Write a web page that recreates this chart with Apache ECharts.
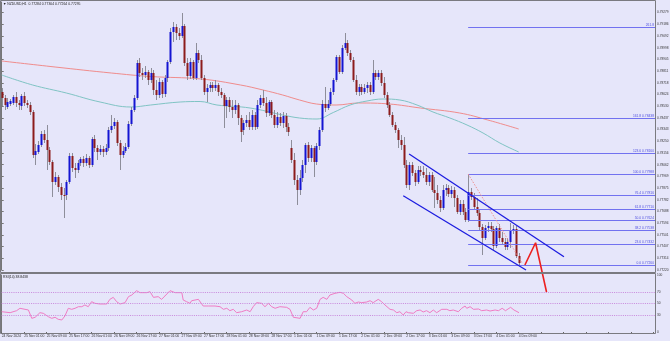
<!DOCTYPE html>
<html><head><meta charset="utf-8">
<script src="https://cdn.jsdelivr.net/npm/echarts/dist/echarts.min.js"></script>
<style>html,body{margin:0;padding:0;background:#e6e6fa}#c{width:670px;height:341px}</style>
</head><body><div id="c"></div><script>
const symbolTitle = "\u25BC NZDUSD,H1  0.77284 0.77304 0.77264 0.77295";
const rsiTitle = "RSI(14) 38.8438";
const xLabels = ["24 Nov 2024","25 Nov 01:00","25 Nov 09:00","25 Nov 17:00","26 Nov 01:00","26 Nov 09:00","26 Nov 17:00","27 Nov 01:00","27 Nov 09:00","27 Nov 17:00","28 Nov 01:00","28 Nov 09:00","28 Nov 17:00","1 Dec 01:00","1 Dec 09:00","1 Dec 17:00","2 Dec 01:00","2 Dec 09:00","2 Dec 17:00","3 Dec 01:00","3 Dec 09:00","3 Dec 17:00","4 Dec 01:00","4 Dec 09:00"];
const opens = [0.78644,0.78596,0.78524,0.78548,0.78556,0.78604,0.78556,0.78532,0.78612,0.78556,
0.78540,0.78484,0.78140,0.78164,0.78220,0.78308,0.78260,0.78180,0.78084,0.77924,
0.77964,0.77884,0.77820,0.77820,0.77924,0.78132,0.78036,0.78020,0.78076,0.78108,
0.78076,0.78116,0.78060,0.78268,0.78196,0.78164,0.78188,0.78164,0.78196,0.78340,
0.78372,0.78404,0.78236,0.78140,0.78172,0.78204,0.78388,0.78500,0.78596,0.78876,
0.78796,0.78780,0.78804,0.78740,0.78796,0.78660,0.78620,0.78724,0.78628,0.78756,
0.78884,0.79124,0.79164,0.79116,0.79092,0.79172,0.78876,0.78772,0.78884,0.78756,
0.78956,0.78900,0.78756,0.78644,0.78676,0.78700,0.78676,0.78700,0.78644,0.78620,
0.78532,0.78580,0.78524,0.78500,0.78540,0.78436,0.78340,0.78396,0.78420,0.78364,
0.78460,0.78364,0.78540,0.78596,0.78556,0.78476,0.78564,0.78460,0.78380,0.78444,
0.78396,0.78452,0.78364,0.78196,0.78100,0.77940,0.77860,0.77956,0.78060,0.78220,
0.78116,0.78196,0.78084,0.78212,0.78340,0.78548,0.78516,0.78548,0.78644,0.78740,
0.78924,0.78804,0.78996,0.79036,0.78956,0.78900,0.78740,0.78644,0.78684,0.78644,
0.78676,0.78700,0.78644,0.78796,0.78764,0.78796,0.78716,0.78620,0.78540,0.78460,
0.78380,0.78340,0.78260,0.78220,0.78060,0.77900,0.78060,0.77996,0.77924,0.78020,
0.78004,0.77980,0.77924,0.77980,0.77860,0.77836,0.77780,0.77716,0.77860,0.77876,
0.77828,0.77860,0.77796,0.77684,0.77748,0.77684,0.77620,0.77844,0.77804,0.77724,
0.77676,0.77564,0.77476,0.77556,0.77572,0.77548,0.77412,0.77556,0.77476,0.77444,
0.77404,0.77444,0.77532,0.77548,0.77332];
const closes = [0.78596,0.78540,0.78564,0.78572,0.78604,0.78556,0.78540,0.78612,0.78556,0.78540,
0.78484,0.78140,0.78172,0.78220,0.78308,0.78260,0.78180,0.78084,0.77924,0.77964,
0.77884,0.77820,0.77812,0.77924,0.78132,0.78036,0.78020,0.78076,0.78108,0.78076,
0.78116,0.78060,0.78268,0.78196,0.78164,0.78188,0.78164,0.78196,0.78340,0.78372,
0.78404,0.78236,0.78140,0.78172,0.78204,0.78388,0.78500,0.78596,0.78876,0.78796,
0.78780,0.78804,0.78740,0.78796,0.78660,0.78620,0.78724,0.78628,0.78756,0.78884,
0.79124,0.79164,0.79116,0.79092,0.79172,0.78876,0.78772,0.78884,0.78756,0.78956,
0.78900,0.78756,0.78644,0.78676,0.78700,0.78676,0.78700,0.78644,0.78620,0.78532,
0.78580,0.78524,0.78500,0.78540,0.78436,0.78324,0.78396,0.78420,0.78364,0.78460,
0.78364,0.78540,0.78596,0.78556,0.78476,0.78564,0.78460,0.78380,0.78444,0.78396,
0.78452,0.78364,0.78324,0.78100,0.77940,0.77860,0.77956,0.78060,0.78220,0.78116,
0.78196,0.78084,0.78212,0.78340,0.78548,0.78516,0.78548,0.78644,0.78740,0.78924,
0.78804,0.78996,0.79036,0.78956,0.78900,0.78740,0.78644,0.78684,0.78644,0.78676,
0.78700,0.78644,0.78796,0.78764,0.78796,0.78716,0.78620,0.78540,0.78460,0.78380,
0.78340,0.78260,0.78220,0.78060,0.77900,0.78060,0.77996,0.77924,0.78020,0.78004,
0.77980,0.77924,0.77980,0.77860,0.77836,0.77780,0.77716,0.77860,0.77876,0.77828,
0.77860,0.77796,0.77684,0.77748,0.77684,0.77620,0.77844,0.77804,0.77724,0.77676,
0.77564,0.77476,0.77556,0.77572,0.77548,0.77412,0.77556,0.77476,0.77444,0.77404,
0.77444,0.77532,0.77548,0.77332,0.77276];
const highs = [0.78676,0.78620,0.78596,0.78588,0.78620,0.78644,0.78580,0.78628,0.78644,0.78580,
0.78564,0.78500,0.78228,0.78252,0.78332,0.78340,0.78380,0.78204,0.78100,0.78004,
0.77980,0.77916,0.77876,0.77940,0.78156,0.78156,0.78076,0.78100,0.78124,0.78132,
0.78148,0.78132,0.78284,0.78300,0.78220,0.78220,0.78212,0.78228,0.78364,0.78460,
0.78436,0.78420,0.78260,0.78212,0.78236,0.78412,0.78524,0.78620,0.78900,0.78916,
0.78836,0.78852,0.78820,0.78836,0.78820,0.78740,0.78756,0.78740,0.78780,0.78900,
0.79156,0.79204,0.79188,0.79156,0.79276,0.79188,0.78916,0.78916,0.78900,0.79036,
0.78980,0.78940,0.78780,0.78708,0.78724,0.78724,0.78740,0.78716,0.78676,0.78636,
0.78604,0.78604,0.78580,0.78580,0.78556,0.78460,0.78420,0.78460,0.78484,0.78500,
0.78484,0.78580,0.78620,0.78660,0.78604,0.78580,0.78580,0.78500,0.78484,0.78476,
0.78484,0.78476,0.78396,0.78260,0.78156,0.77980,0.78020,0.78100,0.78236,0.78244,
0.78220,0.78212,0.78236,0.78364,0.78580,0.78684,0.78580,0.78676,0.78756,0.78940,
0.78940,0.79020,0.79116,0.79060,0.78980,0.78924,0.78780,0.78708,0.78708,0.78708,
0.78724,0.78724,0.78900,0.78820,0.78820,0.78820,0.78764,0.78644,0.78564,0.78484,
0.78404,0.78356,0.78300,0.78284,0.78100,0.78084,0.78084,0.78020,0.78052,0.78052,
0.78052,0.78036,0.78004,0.78004,0.77964,0.77900,0.77812,0.77900,0.77908,0.77900,
0.77892,0.77884,0.77820,0.77780,0.77780,0.77716,0.77988,0.77876,0.77836,0.77796,
0.77700,0.77588,0.77580,0.77604,0.77604,0.77572,0.77572,0.77588,0.77524,0.77476,
0.77476,0.77596,0.77580,0.77572,0.77356];
const lows = [0.78532,0.78500,0.78508,0.78532,0.78540,0.78524,0.78500,0.78500,0.78532,0.78516,
0.78460,0.78116,0.78060,0.78148,0.78204,0.78236,0.78020,0.78060,0.77804,0.77900,
0.77844,0.77780,0.77636,0.77780,0.77908,0.78004,0.77956,0.77996,0.78052,0.78044,
0.78052,0.78036,0.78044,0.78164,0.78100,0.78140,0.78124,0.78140,0.78172,0.78316,
0.78348,0.78212,0.78020,0.78116,0.78156,0.78188,0.78372,0.78484,0.78580,0.78764,
0.78740,0.78756,0.78700,0.78716,0.78620,0.78580,0.78596,0.78596,0.78604,0.78724,
0.78868,0.79044,0.79060,0.79060,0.79076,0.78852,0.78740,0.78748,0.78740,0.78740,
0.78876,0.78740,0.78620,0.78564,0.78644,0.78644,0.78652,0.78612,0.78596,0.78356,
0.78436,0.78484,0.78436,0.78468,0.78380,0.78244,0.78300,0.78364,0.78340,0.78340,
0.78340,0.78348,0.78516,0.78532,0.78444,0.78452,0.78436,0.78356,0.78356,0.78372,
0.78356,0.78324,0.78292,0.78076,0.77900,0.77740,0.77820,0.77924,0.77996,0.78084,
0.78084,0.77964,0.78060,0.78180,0.78324,0.78484,0.78500,0.78532,0.78620,0.78724,
0.78788,0.78788,0.78980,0.78932,0.78884,0.78724,0.78620,0.78612,0.78620,0.78628,
0.78636,0.78620,0.78628,0.78740,0.78740,0.78692,0.78596,0.78516,0.78444,0.78364,
0.78316,0.78196,0.78180,0.78036,0.77876,0.77860,0.77972,0.77892,0.77908,0.77972,
0.77956,0.77900,0.77892,0.77844,0.77716,0.77748,0.77684,0.77700,0.77812,0.77804,
0.77796,0.77724,0.77668,0.77660,0.77660,0.77604,0.77604,0.77780,0.77700,0.77652,
0.77540,0.77340,0.77460,0.77524,0.77524,0.77380,0.77396,0.77444,0.77420,0.77380,
0.77380,0.77396,0.77508,0.77316,0.77260];
const maSlow = [[0,0.78892],[19,0.78844],[39,0.78796],[53,0.78768],[71,0.78748],[85,0.78700],[93,0.78660],[100,0.78620],[106,0.78580],[112,0.78548],[119,0.78540],[127,0.78556],[138,0.78548],[149,0.78516],[163,0.78476],[173,0.78420],[184,0.78348]];
const maFast = [[0,0.78780],[11,0.78700],[23,0.78636],[35,0.78564],[46,0.78524],[53,0.78540],[63.5,0.78564],[70.6,0.78568],[76.6,0.78540],[88.4,0.78516],[100,0.78460],[106,0.78436],[112.2,0.78428],[118,0.78480],[124,0.78540],[130,0.78572],[135.7,0.78588],[141.7,0.78580],[147.8,0.78540],[153.5,0.78484],[159.5,0.78436],[165.6,0.78380],[171.3,0.78316],[177.3,0.78236],[184,0.78164]];
const fibLevels = [0, 23.6, 38.2, 50, 61.8, 76.4, 100, 123.6, 161.8, 261.8];
const fibLow = 0.77260, fibHigh = 0.77988, fibStart = 166;
const fibDiagonal = [[166,0.77988],[185.2,0.77276]];
const channelUpper = [[145.0,0.78148],[200.1,0.77326]];
const channelLower = [[142.9,0.77814],[186.6,0.77220]];
const projection = [[186.2,0.77260],[190.0,0.77438],[193.9,0.77044]];
const rsiLevels = [70, 50, 30];
const rsiPts = [[0,35.6],[3,33.9],[5.3,37.4],[6.5,41.6],[8.3,39.8],[9.5,38.6],[10.7,24.0],[11.9,25.8],[13.6,33.9],[14.8,32.8],[16.6,26.8],[17.8,24.0],[19,25.8],[20.1,22.3],[21.4,21.1],[22.5,28.1],[23.7,41.6],[24.9,39.8],[26.1,41.6],[27.3,44.4],[28.5,44.4],[29.6,47.4],[30.8,44.4],[32,53.2],[33.2,50.3],[35,49.1],[37.4,49.1],[38.5,57.3],[39.7,60.8],[40.9,53.2],[42.1,49.1],[43.9,51.5],[45.1,62.0],[46.3,64.9],[48,72.5],[49.2,69.0],[51.6,69.0],[52.8,70.7],[54,60.8],[55.7,62.0],[56.9,57.3],[58.1,63.2],[59.9,72.5],[61.7,69.0],[64.1,69.0],[64.6,56.1],[65.8,53.2],[67,50.3],[67.6,54.9],[68.8,56.1],[70,57.3],[71.7,45.6],[73.5,45.6],[75.9,45.6],[77.7,44.4],[78.9,39.8],[80.1,41.6],[81.2,37.4],[82.4,39.8],[83.6,33.9],[85.4,35.6],[87.2,38.6],[88.4,35.6],[89.5,44.4],[90.7,51.5],[92.5,50.3],[93.7,44.4],[94.9,50.3],[96.1,44.4],[97.3,41.6],[99,44.4],[101.4,43.3],[102.6,39.8],[103.8,25.8],[106.2,24.0],[107.3,35.6],[108.5,35.6],[109.7,43.3],[110.9,38.6],[112.1,41.6],[113.3,57.3],[114.4,60.8],[115.7,57.3],[116.8,64.9],[118.6,67.9],[120.4,69.6],[121.6,67.9],[122.8,62.0],[124.6,56.1],[125.7,50.3],[126.9,52.6],[128.1,51.5],[129.9,52.6],[131.1,54.9],[132.2,51.5],[134,57.3],[135.2,53.2],[136.4,47.4],[138.2,39.8],[139.4,38.6],[140.6,33.9],[141.7,35.6],[142.9,29.8],[143.9,35.6],[144.7,33.9],[146.5,32.8],[147.7,37.4],[148.9,38.6],[150,35.1],[151.2,37.4],[152.4,33.9],[153.6,38.6],[154.8,33.9],[156.6,39.8],[158.4,39.8],[159.5,37.4],[160.7,38.6],[162.5,35.6],[163.7,41.6],[164.9,45.6],[165.5,41.6],[166.7,44.4],[167.9,39.8],[169.7,40.4],[170.8,37.4],[172.6,38.6],[173.8,36.8],[175.6,38.6],[176.8,37.4],[178.1,41.6],[179.3,37.4],[181.1,43.3],[182.3,38.6],[184.1,33.9]];

const N = 233;
const FONT = 'Liberation Sans, Arial, sans-serif';
const cats = Array.from({length: N}, (_, i) => String(i));
const candleData = opens.map((o, i) => [i, o, closes[i], lows[i], highs[i]]);
const fibData = fibLevels.map(l => [fibStart, fibLow + (fibHigh - fibLow) * l / 100, l]);
const lastClose = closes[closes.length - 1];

const chart = echarts.init(document.getElementById('c'), null, {renderer: 'canvas'});
chart.setOption({
  animation: false,
  backgroundColor: '#e6e6fa',
  grid: [
    {left: 0.3, top: 2, width: 654.7, height: 268, containLabel: false, outerBoundsMode: 'none'},
    {left: 0.3, top: 275, width: 654.7, height: 57, containLabel: false, outerBoundsMode: 'none'}
  ],
  xAxis: [
    {type: 'value', gridIndex: 0, min: -0.5, max: N - 0.5, show: false},
    {type: 'category', gridIndex: 1, data: cats, boundaryGap: true,
      axisLine: {show: false},
      axisTick: {show: true, interval: 7, alignWithLabel: true, length: 2, lineStyle: {color: '#666'}},
      axisLabel: {interval: 7, align: 'left', fontSize: 3.4, fontFamily: FONT, color: '#333', margin: 3,
        formatter: (v, idx) => (idx % 8 === 0 && xLabels[idx / 8]) ? xLabels[idx / 8] : ''},
      splitLine: {show: false}},
    {type: 'value', gridIndex: 1, min: -0.5, max: N - 0.5, show: false}
  ],
  yAxis: [
    {type: 'value', gridIndex: 0, position: 'right', min: 0.7722, max: 0.79364, interval: 0.000936,
      axisLine: {show: true, lineStyle: {color: '#777'}},
      axisTick: {show: true, length: 2, lineStyle: {color: '#777'}},
      axisLabel: {show: true, showMaxLabel: false, fontSize: 3.2, fontFamily: FONT, color: '#333', margin: 2,
        formatter: v => v.toFixed(5)},
      splitLine: {show: false}},
    {type: 'value', gridIndex: 1, position: 'right', min: 0, max: 100, interval: 10,
      axisLine: {show: true, lineStyle: {color: '#777'}},
      axisTick: {show: false},
      axisLabel: {fontSize: 3.2, fontFamily: FONT, color: '#333', margin: 2,
        formatter: v => ([0, 30, 50, 70, 100].indexOf(v) >= 0 ? String(v) : '')},
      splitLine: {show: false}}
  ],
  series: [
    {type: 'line', name: 'maSlow', xAxisIndex: 0, yAxisIndex: 0, data: maSlow, smooth: 0.4, showSymbol: false,
      lineStyle: {color: '#f08c8c', width: 1}, z: 2,
      markLine: {symbol: 'none', silent: true, data: [{yAxis: lastClose}],
        lineStyle: {color: '#a8a8b0', type: 'solid', width: 1},
        label: {position: 'end', distance: 1, formatter: p => p.value.toFixed(5), color: '#fff',
          backgroundColor: '#111', fontSize: 3.2, fontFamily: FONT, padding: [0.5, 1]}}},
    {type: 'line', name: 'maFast', xAxisIndex: 0, yAxisIndex: 0, data: maFast, smooth: 0.4, showSymbol: false,
      lineStyle: {color: '#80c4c4', width: 1}, z: 2},
    {type: 'custom', name: 'candles', xAxisIndex: 0, yAxisIndex: 0, data: candleData, z: 3,
      encode: {x: 0, y: [1, 2, 3, 4]},
      renderItem: (params, api) => {
        const i = api.value(0), o = api.value(1), c = api.value(2), l = api.value(3), h = api.value(4);
        const po = api.coord([i, o]), pc = api.coord([i, c]), pl = api.coord([i, l]), ph = api.coord([i, h]);
        const x = Math.round(po[0]);
        const top = Math.min(po[1], pc[1]);
        const hgt = Math.max(1, Math.abs(po[1] - pc[1]));
        return {type: 'group', children: [
          {type: 'line', shape: {x1: x + 0.5, y1: ph[1], x2: x + 0.5, y2: pl[1]}, style: {stroke: '#8e8e9a', lineWidth: 1}},
          {type: 'rect', shape: {x: x - 0.5, y: top, width: 2, height: hgt}, style: {fill: c >= o ? '#1414d2' : '#8c1c1c'}}
        ]};
      }},
    {type: 'custom', name: 'fib', xAxisIndex: 0, yAxisIndex: 0, data: fibData, z: 4, encode: {x: 0, y: 1},
      renderItem: (params, api) => {
        const s = api.value(0), p = api.value(1), lv = api.value(2);
        const a = api.coord([s, p]), b = api.coord([N - 0.5, p]);
        const y = Math.round(a[1]) + 0.5;
        const txt = lv === 261.8 ? '261.8' : lv.toFixed(1) + ' ' + p.toFixed(5);
        return {type: 'group', children: [
          {type: 'line', shape: {x1: a[0], y1: y, x2: b[0], y2: y}, style: {stroke: '#7272f0', lineWidth: 1}},
          {type: 'text', style: {text: txt, x: b[0] - 1, y: y - 0.5, align: 'right', verticalAlign: 'bottom',
            fill: '#5050e0', fontSize: 3.3, fontFamily: FONT}}
        ]};
      }},
    {type: 'line', name: 'fibDiag', xAxisIndex: 0, yAxisIndex: 0, data: fibDiagonal, showSymbol: false,
      lineStyle: {color: '#f09090', width: 1, type: [1.5, 1.5]}, z: 4},
    {type: 'line', name: 'chUp', xAxisIndex: 0, yAxisIndex: 0, data: channelUpper, showSymbol: false, clip: false,
      lineStyle: {color: '#1c1ce0', width: 1.3}, z: 5},
    {type: 'line', name: 'chLo', xAxisIndex: 0, yAxisIndex: 0, data: channelLower, showSymbol: false, clip: false,
      lineStyle: {color: '#1c1ce0', width: 1.3}, z: 5},
    {type: 'line', name: 'proj', xAxisIndex: 0, yAxisIndex: 0, data: projection, showSymbol: false, clip: false,
      lineStyle: {color: '#ec2020', width: 1.6}, z: 6},
    {type: 'line', name: 'rsi', xAxisIndex: 2, yAxisIndex: 1, data: rsiPts, showSymbol: false,
      lineStyle: {color: '#f07cc4', width: 1}, z: 3,
      markLine: {symbol: 'none', silent: true, data: rsiLevels.map(v => ({yAxis: v})),
        lineStyle: {color: '#c888dc', type: [1, 1.2], width: 1}, label: {show: false}}}
  ],
  graphic: [
    {type: 'rect', shape: {x: 0.5, y: 0.5, width: 655, height: 272}, style: {fill: 'none', stroke: '#7a7a80', lineWidth: 1}, z: 10, silent: true},
    {type: 'rect', shape: {x: 0.5, y: 273.5, width: 655, height: 60}, style: {fill: 'none', stroke: '#7a7a80', lineWidth: 1}, z: 10, silent: true},
    {type: 'text', left: 3, top: 2.5, style: {text: symbolTitle, fontSize: 3.4, fontFamily: FONT, fill: '#222'}, z: 10, silent: true},
    {type: 'text', left: 3, top: 275.5, style: {text: rsiTitle, fontSize: 3.4, fontFamily: FONT, fill: '#222'}, z: 10, silent: true}
  ]
});
</script></body></html>
